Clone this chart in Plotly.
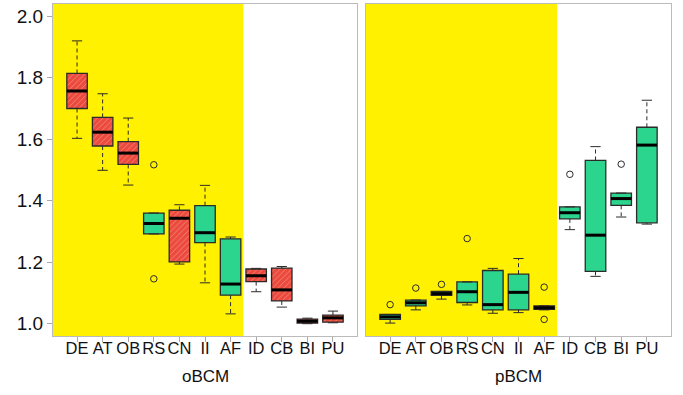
import plotly.graph_objects as go

categories = ["DE", "AT", "OB", "RS", "CN", "II", "AF", "ID", "CB", "BI", "PU"]
positions = list(range(1, len(categories) + 1))
highlight_until = 7.5  # yellow band covers first 7 categories

# ---- oBCM panel ----
o_low = [1.603, 1.499, 1.451, 1.292, 1.194, 1.133, 1.032, 1.104, 1.054, 1.000, 1.003]
o_q1 = [1.700, 1.578, 1.518, 1.292, 1.201, 1.264, 1.093, 1.137, 1.074, 1.002, 1.005]
o_med = [1.757, 1.623, 1.555, 1.326, 1.343, 1.296, 1.129, 1.156, 1.110, 1.008, 1.019]
o_q3 = [1.814, 1.671, 1.592, 1.360, 1.369, 1.384, 1.276, 1.178, 1.181, 1.015, 1.028]
o_high = [1.920, 1.748, 1.669, 1.360, 1.387, 1.450, 1.282, 1.180, 1.186, 1.018, 1.041]
o_red = [True, True, True, False, True, False, False, True, True, True, True]
o_out_cat = ["RS", "RS"]
o_out_val = [1.517, 1.146]

# ---- pBCM panel ----
p_low = [1.002, 1.045, 1.080, 1.061, 1.034, 1.036, 1.045, 1.306, 1.154, 1.347, 1.324]
p_q1 = [1.014, 1.058, 1.092, 1.069, 1.045, 1.045, 1.047, 1.341, 1.170, 1.385, 1.328]
p_med = [1.022, 1.068, 1.098, 1.104, 1.062, 1.102, 1.052, 1.361, 1.288, 1.407, 1.581]
p_q3 = [1.030, 1.077, 1.105, 1.136, 1.173, 1.161, 1.058, 1.380, 1.531, 1.425, 1.639]
p_high = [1.030, 1.077, 1.105, 1.136, 1.180, 1.212, 1.058, 1.380, 1.576, 1.425, 1.727]
p_red = [False, False, False, False, False, False, True, False, False, False, False]
p_out_cat = ["DE", "AT", "OB", "RS", "AF", "AF", "ID", "BI"]
p_out_val = [1.062, 1.116, 1.128, 1.277, 1.119, 1.014, 1.486, 1.519]

y_ticks = [1.0, 1.2, 1.4, 1.6, 1.8, 2.0]
y_range = [0.96, 2.04]
x_range = [0.06, 11.94]
panel_titles = ["oBCM", "pBCM"]

RED = "#EB4A3D"
RED_HATCH = "#BE3229"
GREEN = "#2CD58E"
YELLOW = "#FFF100"
EDGE = "#2B2B2B"
FONT = "Liberation Sans, Arial, sans-serif"

fig = go.Figure()


def add_panel(xa, ya, low, q1, med, q3, high, red, out_cat, out_val):
    # whiskers (dashed)
    wx, wy = [], []
    for p, a, b, c, d in zip(positions, low, q1, q3, high):
        wx += [p, p, None, p, p, None]
        wy += [c, d, None, b, a, None]
    fig.add_trace(go.Scatter(x=wx, y=wy, mode="lines", xaxis=xa, yaxis=ya,
                             line=dict(color=EDGE, width=1, dash="4px,3px"),
                             hoverinfo="skip", showlegend=False))
    # caps
    cx, cy = [], []
    for p, a, d in zip(positions, low, high):
        cx += [p - 0.2, p + 0.2, None, p - 0.2, p + 0.2, None]
        cy += [d, d, None, a, a, None]
    fig.add_trace(go.Scatter(x=cx, y=cy, mode="lines", xaxis=xa, yaxis=ya,
                             line=dict(color=EDGE, width=1),
                             hoverinfo="skip", showlegend=False))
    # boxes
    fig.add_trace(go.Bar(
        x=positions, y=[c - b for b, c in zip(q1, q3)], base=q1, width=0.8,
        xaxis=xa, yaxis=ya,
        marker=dict(color=[RED if r else GREEN for r in red],
                    line=dict(color=EDGE, width=1.3),
                    pattern=dict(shape=["/" if r else "" for r in red],
                                 fgcolor=RED_HATCH, size=4, solidity=0.15)),
        hoverinfo="skip", showlegend=False))
    # medians
    mx, my = [], []
    for p, m in zip(positions, med):
        mx += [p - 0.4, p + 0.4, None]
        my += [m, m, None]
    fig.add_trace(go.Scatter(x=mx, y=my, mode="lines", xaxis=xa, yaxis=ya,
                             line=dict(color="black", width=3),
                             hoverinfo="skip", showlegend=False))
    # outliers
    ox = [positions[categories.index(c)] for c in out_cat]
    fig.add_trace(go.Scatter(x=ox, y=out_val, mode="markers", xaxis=xa, yaxis=ya,
                             marker=dict(symbol="circle-open", size=6.5, color=EDGE,
                                         line=dict(width=1)),
                             hoverinfo="skip", showlegend=False))


add_panel("x", "y", o_low, o_q1, o_med, o_q3, o_high, o_red, o_out_cat, o_out_val)
add_panel("x2", "y2", p_low, p_q1, p_med, p_q3, p_high, p_red, p_out_cat, p_out_val)

W, H = 683, 395
ml, mr, mt, mb = 53, 12, 4, 59
pw = W - ml - mr
d1 = (357 - ml) / pw
d2 = (366 - ml) / pw

common_x = dict(range=x_range, tickvals=positions, ticktext=categories, tickangle=0,
                ticks="outside", ticklen=5, tickcolor="#AAAAAA", showline=True,
                mirror=True, linecolor="#BBBBBB", linewidth=1, showgrid=False,
                zeroline=False, automargin=False, ticklabelstandoff=-8,
                tickfont=dict(size=16.5, color="#111111", family=FONT))
common_y = dict(range=y_range, tickvals=y_ticks, ticktext=[f"{v:.1f}" for v in y_ticks],
                showline=True, mirror=True, linecolor="#BBBBBB", linewidth=1,
                showgrid=False, zeroline=False, automargin=False,
                tickfont=dict(size=19, color="#111111", family=FONT))

shapes = []
for xr in ["x", "x2"]:
    shapes.append(dict(type="rect", xref=xr, yref=f"{'y' if xr == 'x' else 'y2'} domain",
                       x0=x_range[0], x1=highlight_until, y0=0, y1=1,
                       fillcolor=YELLOW, line=dict(width=0), layer="below"))

annotations = []
for xr, t in zip(["x domain", "x2 domain"], panel_titles):
    annotations.append(dict(text=t, xref=xr, yref="paper", x=0.5, y=-40 / (H - mt - mb),
                            showarrow=False, xanchor="center", yanchor="middle",
                            font=dict(size=17, color="#111111", family=FONT)))

fig.update_layout(
    width=W, height=H, margin=dict(l=ml, r=mr, t=mt, b=mb, autoexpand=False),
    paper_bgcolor="white", plot_bgcolor="white", barmode="overlay",
    font=dict(family=FONT),
    xaxis=dict(domain=[0, d1], anchor="y", **common_x),
    xaxis2=dict(domain=[d2, 1], anchor="y2", **common_x),
    yaxis=dict(anchor="x", ticks="outside", ticklen=5, tickcolor="#AAAAAA", **common_y),
    yaxis2=dict(anchor="x2", showticklabels=False, ticks="", **common_y),
    shapes=shapes, annotations=annotations,
)

fig.write_html("out.html", config={"displayModeBar": False},
               post_script="document.body.style.margin='0';document.body.style.overflow='hidden';")
